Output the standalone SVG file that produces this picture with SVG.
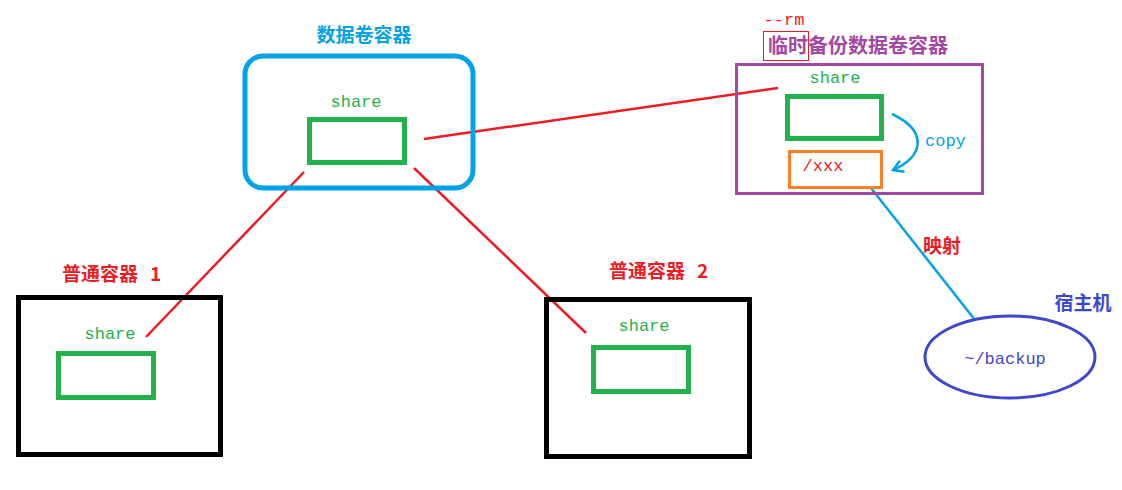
<svg xmlns="http://www.w3.org/2000/svg" width="1122" height="490" viewBox="0 0 1122 490">
<style>
.zh{font-family:"Noto Sans CJK SC","Liberation Serif",serif;font-size:19px;font-weight:bold}
.mono{font-family:"Liberation Mono",monospace;font-size:17px}
.green{fill:#22b14c}
.red{fill:#ed1c24}
.box{fill:none;stroke:#22b14c;stroke-width:5}
.ctr{fill:none;stroke:#000;stroke-width:5}
.link{stroke:#ed1c24;stroke-width:2.5;fill:none}
</style>
<defs>
<marker id="ah" markerWidth="14" markerHeight="14" refX="11" refY="7" orient="auto" markerUnits="userSpaceOnUse">
<path d="M1,1 L11,7 L1,13" fill="none" stroke="#00a2e8" stroke-width="2.5"/>
</marker>
</defs>
<rect width="1122" height="490" fill="#fff"/>
<g id="connectors">
<line class="link" x1="424" y1="139" x2="778" y2="88"/>
<line class="link" x1="304" y1="172" x2="146" y2="337"/>
<line class="link" x1="414" y1="168" x2="586" y2="333"/>
<path d="M892,114 C930,132 922,158 893,170" fill="none" stroke="#00a2e8" stroke-width="2.5" marker-end="url(#ah)"/>
<text x="925" y="146" class="mono" fill="#00a2e8">copy</text>
<line x1="871" y1="188" x2="975" y2="320" stroke="#00a2e8" stroke-width="2.5"/>
<text x="923" y="253" class="zh red">映射</text>
</g>
<g id="data-volume">
<text x="364" y="42" class="zh" fill="#00a2e8" text-anchor="middle">数据卷容器</text>
<rect x="245" y="56" width="228" height="132" rx="18" fill="none" stroke="#00a2e8" stroke-width="5"/>
<text x="356" y="107" class="mono green" text-anchor="middle">share</text>
<rect x="309.5" y="119.5" width="95" height="43" class="box"/>
</g>
<g id="backup-container">
<text x="784" y="25" class="mono red" text-anchor="middle">--rm</text>
<rect x="763.5" y="31.5" width="45" height="29" fill="none" stroke="#ed1c24" stroke-width="1"/>
<text x="768" y="53" class="zh" fill="#a349a4" style="font-size:20px">临时备份数据卷容器</text>
<rect x="736.5" y="64.5" width="246" height="129" fill="none" stroke="#a349a4" stroke-width="3"/>
<text x="835" y="83" class="mono green" text-anchor="middle">share</text>
<rect x="787.5" y="96.5" width="94" height="42" class="box"/>
<rect x="789.5" y="151.5" width="92" height="36" fill="none" stroke="#ff7f27" stroke-width="3"/>
<text x="823" y="171" class="mono red" text-anchor="middle">/xxx</text>
</g>
<g id="host">
<text x="1083" y="310" class="zh" fill="#3f48cc" text-anchor="middle">宿主机</text>
<ellipse cx="1010" cy="357" rx="85" ry="41" fill="none" stroke="#3f48cc" stroke-width="3"/>
<text x="1005" y="364" class="mono" fill="#3f48cc" text-anchor="middle">~/backup</text>
</g>
<g id="container1">
<text x="62" y="281" class="zh red">普通容器<tspan dx="12">1</tspan></text>
<rect x="18.5" y="297.5" width="202" height="157" class="ctr"/>
<text x="110" y="339" class="mono green" text-anchor="middle">share</text>
<rect x="58.5" y="353.5" width="95" height="44" class="box"/>
</g>
<g id="container2">
<text x="609" y="278" class="zh red">普通容器<tspan dx="12">2</tspan></text>
<rect x="546.5" y="299.5" width="203" height="157" class="ctr"/>
<text x="644" y="331" class="mono green" text-anchor="middle">share</text>
<rect x="593.5" y="347.5" width="95" height="44" class="box"/>
</g>
</svg>
